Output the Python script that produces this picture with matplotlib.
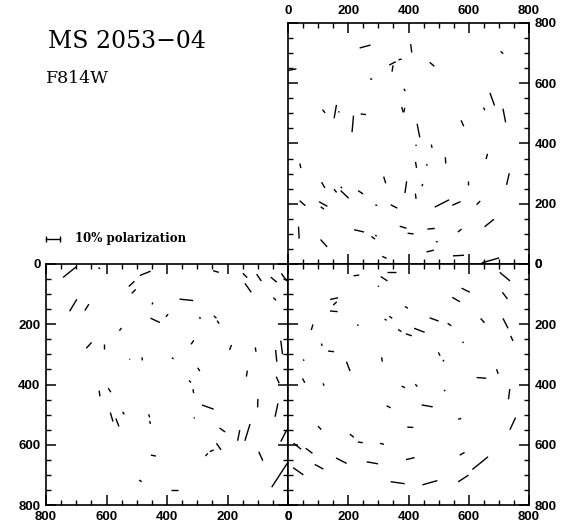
import numpy as np
import matplotlib.pyplot as plt
from matplotlib.collections import LineCollection
from matplotlib.ticker import MultipleLocator

# polarization vectors per chip: x, y (pixels), degree of polarization (%),
# angle on the page (deg, counter-clockwise from the right)
tr_x = [256, 409, 710, 14, 347, 347, 372, 478, 276, 387, 119, 157, 169, 215, 250, 380, 386, 651, 678, 718,
        579, 433, 425, 477, 660, 41, 425, 461, 523, 730, 596, 321, 391, 446, 424, 117, 157, 188, 177, 241,
        48, 117, 114, 293, 352, 511, 559, 632, 668, 36, 236, 283, 292, 382, 407, 475, 570, 119, 494, 472,
        320, 566, 672]
tr_y = [722, 716, 702, 645, 666, 649, 679, 663, 614, 578, 507, 506, 505, 465, 497, 512, 511, 515, 547, 493,
        467, 443, 394, 391, 357, 326, 329, 329, 344, 282, 268, 279, 255, 262, 225, 262, 243, 231, 254, 238,
        202, 199, 186, 195, 191, 201, 201, 203, 136, 104, 110, 87, 94, 122, 101, 117, 111, 69, 74, 43,
        22, 28, 12]
tr_p = [8.1, 6.0, 2.5, 6.1, 5.3, 4.6, 2.4, 4.4, 1.5, 1.9, 3.0, 9.7, 1.0, 11.9, 3.8, 4.0, 3.2, 2.1, 9.6, 9.9,
        4.7, 9.9, 1.0, 2.4, 3.9, 3.4, 4.3, 1.3, 4.5, 8.5, 2.6, 5.0, 8.4, 1.7, 3.8, 4.7, 3.0, 7.9, 1.3, 4.3,
        5.4, 6.8, 2.9, 1.4, 5.3, 11.5, 6.5, 3.7, 8.6, 8.6, 7.3, 3.2, 1.3, 5.0, 4.3, 5.3, 3.4, 7.1, 1.3, 5.4,
        3.4, 7.9, 12.9]
tr_a = [15, 97, 139, 11, 27, 81, 11, 139, 162, 120, 129, 80, 135, 85, 173, 107, 77, 117, 110, 101,
        114, 101, 135, 101, 75, 102, 100, 112, 93, 77, 90, 107, 82, 74, 97, 120, 129, 136, 135, 146,
        139, 151, 145, 170, 153, 27, 24, 45, 39, 93, 167, 144, 135, 163, 174, 5, 39, 132, 22, 13,
        155, 3, 16]

bl_x = [722, 624, 472, 517, 510, 336, 238, 142, 96, 47, 13, 132, 44, 710, 665, 448, 439, 400, 291, 241,
        231, 554, 658, 607, 523, 482, 381, 316, 190, 107, 21, 39, 295, 136, 34, 324, 313, 623, 590, 100,
        265, 310, 583, 564, 544, 459, 456, 38, 217, 163, 134, 14, 269, 252, 229, 445, 90, 488, 376, 28]
bl_y = [27, 14, 31, 66, 91, 119, 25, 38, 45, 52, 44, 79, 116, 137, 144, 131, 187, 171, 179, 176,
        193, 217, 270, 274, 316, 315, 313, 260, 277, 284, 277, 305, 350, 364, 385, 390, 422, 430, 419, 462,
        475, 511, 508, 526, 495, 504, 526, 485, 551, 569, 559, 570, 633, 620, 606, 636, 638, 720, 750, 701]
bl_p = [12.0, 1.5, 8.2, 5.5, 4.0, 9.8, 4.2, 4.4, 6.0, 5.6, 6.7, 7.9, 2.7, 10.0, 5.4, 1.6, 7.4, 2.5, 1.5, 2.5,
        2.6, 2.4, 5.7, 3.8, 0.6, 2.2, 1.5, 3.4, 3.8, 3.1, 9.8, 8.4, 2.8, 4.3, 5.2, 2.0, 2.9, 4.1, 3.4, 6.0,
        8.8, 0.9, 6.7, 6.1, 2.2, 2.3, 2.2, 9.8, 4.9, 7.8, 12.5, 9.4, 2.5, 3.1, 5.8, 3.6, 7.0, 2.2, 5.2, 20.4]
bl_a = [39, 141, 22, 43, 45, 174, 164, 135, 124, 140, 125, 125, 135, 59, 58, 63, 155, 49, 108, 139,
        124, 53, 48, 90, 153, 97, 141, 56, 68, 99, 97, 96, 121, 81, 114, 135, 99, 97, 124, 88,
        160, 124, 106, 111, 122, 108, 103, 78, 145, 79, 73, 63, 50, 23, 125, 169, 114, 148, 0, 57]

br_x = [227, 319, 300, 344, 720, 153, 156, 152, 558, 590, 720, 393, 80, 232, 324, 341, 485, 536, 646, 722,
        371, 401, 436, 743, 581, 112, 143, 52, 200, 312, 502, 516, 642, 695, 52, 118, 383, 426, 520, 734,
        334, 462, 570, 746, 105, 406, 212, 240, 312, 31, 70, 578, 177, 280, 406, 103, 34, 638, 582, 364, 471]
br_y = [38, 49, 74, 28, 42, 115, 131, 157, 118, 87, 105, 144, 210, 203, 185, 177, 184, 201, 188, 197,
        221, 235, 220, 247, 260, 268, 290, 319, 340, 317, 299, 321, 378, 357, 387, 400, 408, 403, 420, 432,
        474, 471, 514, 530, 544, 542, 570, 592, 597, 605, 620, 630, 653, 660, 646, 673, 688, 661, 712, 726, 726]
br_p = [4.1, 5.7, 0.9, 6.0, 9.6, 5.8, 3.5, 5.5, 6.3, 6.6, 6.0, 2.5, 4.2, 1.2, 1.7, 2.6, 6.8, 3.2, 4.2, 8.0,
        2.8, 4.5, 8.1, 3.9, 1.1, 1.7, 4.3, 1.1, 7.2, 3.1, 2.7, 1.3, 6.9, 3.5, 3.5, 1.8, 2.7, 2.2, 1.2, 7.4,
        3.2, 8.0, 2.3, 9.7, 3.4, 4.3, 3.6, 3.6, 2.9, 7.0, 6.0, 4.0, 8.5, 8.2, 6.3, 7.0, 9.0, 14.4, 8.8, 10.1, 11.1]
br_a = [7, 147, 56, 0, 140, 12, 42, 175, 150, 154, 127, 151, 74, 127, 146, 146, 160, 144, 133, 117,
        149, 162, 159, 115, 117, 106, 174, 117, 111, 99, 117, 112, 176, 110, 118, 113, 153, 131, 37, 83,
        153, 170, 18, 65, 135, 177, 143, 172, 166, 142, 143, 28, 153, 170, 13, 152, 145, 39, 33, 172, 16]

ticks = [0, 200, 400, 600, 800]
UNITS_PER_PCT = 4.65  # vector length in pixels per 1% polarization

plt.rcParams['font.family'] = ['Liberation Sans', 'DejaVu Sans']

fig = plt.figure(figsize=(5.7, 5.22), dpi=100)
W, H = 570.0, 522.0
ax_tr = fig.add_axes([288 / W, (H - 264) / H, 241 / W, 241 / H])
ax_bl = fig.add_axes([46 / W, (H - 505) / H, 242 / W, 241 / H])
ax_br = fig.add_axes([288 / W, (H - 505) / H, 241 / W, 241 / H])


def style(ax, invert_x, invert_y, **labels):
    ax.set_xlim((800, 0) if invert_x else (0, 800))
    ax.set_ylim((800, 0) if invert_y else (0, 800))
    ax.set_xticks(ticks)
    ax.set_yticks(ticks)
    ax.xaxis.set_minor_locator(MultipleLocator(50))
    ax.yaxis.set_minor_locator(MultipleLocator(50))
    ax.tick_params(which='both', direction='in', top=True, bottom=True, left=True, right=True,
                   labelsize=9.5, pad=4, **labels)
    ax.tick_params(which='major', length=7, width=1.1)
    ax.tick_params(which='minor', length=3.6, width=1.0)
    for lab in ax.get_xticklabels() + ax.get_yticklabels():
        lab.set_fontweight('bold')
    for s in ax.spines.values():
        s.set_linewidth(1.2)


def draw_vectors(ax, x, y, p, a):
    x = np.asarray(x, float)
    y = np.asarray(y, float)
    half = 0.5 * UNITS_PER_PCT * np.asarray(p, float)
    t = np.radians(a)
    sx = -1 if ax.xaxis_inverted() else 1
    sy = -1 if ax.yaxis_inverted() else 1
    dx = sx * half * np.cos(t)
    dy = sy * half * np.sin(t)
    segs = np.stack([np.column_stack([x - dx, y - dy]),
                     np.column_stack([x + dx, y + dy])], axis=1)
    ax.add_collection(LineCollection(segs, colors='black', linewidths=1.0, clip_on=False))


style(ax_tr, False, False, labeltop=True, labelbottom=False, labelleft=False, labelright=True)
style(ax_bl, True, True, labeltop=False, labelbottom=True, labelleft=True, labelright=False)
style(ax_br, False, True, labeltop=False, labelbottom=True, labelleft=False, labelright=True)

draw_vectors(ax_tr, tr_x, tr_y, tr_p, tr_a)
draw_vectors(ax_bl, bl_x, bl_y, bl_p, bl_a)
draw_vectors(ax_br, br_x, br_y, br_p, br_a)

# scale bar: 10% polarization, drawn above the left chip
bar_y = -83
ax_bl.plot([800, 800 - 10 * UNITS_PER_PCT], [bar_y, bar_y], color='black', lw=1.0,
           marker='|', markersize=5, mew=1.0, clip_on=False)
ax_bl.text(705, bar_y, '10% polarization', ha='left', va='center', fontsize=8.5,
           family='DejaVu Serif', fontweight='bold', clip_on=False)

fig.text(48 / W, (H - 48) / H, 'MS 2053\u221204', fontsize=17, family='DejaVu Serif',
         ha='left', va='baseline')
fig.text(46 / W, (H - 83) / H, 'F814W', fontsize=12.5, family='DejaVu Serif',
         ha='left', va='baseline')

fig.savefig('out.png', dpi=100)
